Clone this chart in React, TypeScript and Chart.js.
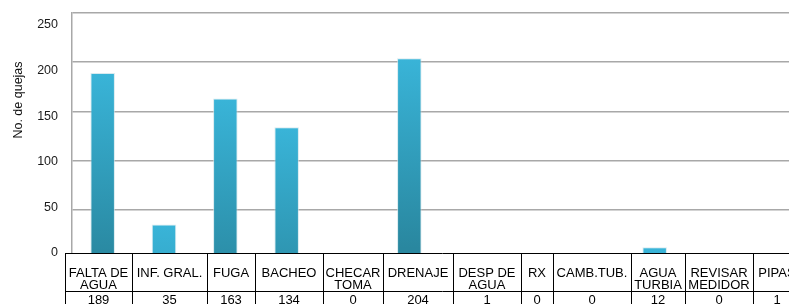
import React, { useEffect, useRef } from "react";
import { Chart, registerables } from "chart.js";

Chart.register(...registerables);

// ---- data ----
const CATEGORY_LINES: string[][] = [
  ["FALTA DE", "AGUA"],
  ["INF. GRAL."],
  ["FUGA"],
  ["BACHEO"],
  ["CHECAR", "TOMA"],
  ["DRENAJE"],
  ["DESP DE", "AGUA"],
  ["RX"],
  ["CAMB.TUB."],
  ["AGUA", "TURBIA"],
  ["REVISAR", "MEDIDOR"],
  ["PIPAS"],
];
const QUEJAS: number[] = [189, 35, 163, 134, 0, 204, 1, 0, 0, 12, 0, 1];
const Y_MIN = 0;
const Y_MAX = 250;
const Y_STEP = 50;
const Y_TITLE = "No. de quejas";

// ---- layout / style ----
const TABLE_COL_WIDTHS = [67, 75, 48, 68, 60, 70, 68, 32, 78, 54, 68, 48];
const FONT = "'Liberation Sans', Arial, sans-serif";
const CANVAS_W = 820;
const CANVAS_H = 304;

export default function App() {
  const ref = useRef<HTMLCanvasElement>(null);

  useEffect(() => {
    const canvas = ref.current!;

    const tablePlugin = {
      id: "dataTable",
      afterDraw(chart: any) {
        const { ctx, chartArea } = chart;
        const left = chartArea.left - 7;
        const top = Math.round(chartArea.bottom - 6) + 0.5;
        const sep = top + 38;
        const bottom = CANVAS_H + 2;
        ctx.save();
        ctx.fillStyle = "#ffffff";
        ctx.fillRect(left, top, CANVAS_W - left, bottom - top);
        ctx.strokeStyle = "#000000";
        ctx.lineWidth = 1;
        ctx.beginPath();
        ctx.moveTo(left, top);
        ctx.lineTo(CANVAS_W, top);
        ctx.moveTo(left, sep);
        ctx.lineTo(CANVAS_W, sep);
        let x = left;
        const bounds: number[] = [x];
        TABLE_COL_WIDTHS.forEach((w) => {
          x += w;
          bounds.push(x);
        });
        bounds.forEach((bx) => {
          const px = Math.round(bx) + 0.5;
          ctx.moveTo(px, top);
          ctx.lineTo(px, bottom);
        });
        ctx.stroke();

        ctx.fillStyle = "#000000";
        ctx.font = `13px ${FONT}`;
        ctx.textAlign = "center";
        ctx.textBaseline = "alphabetic";
        CATEGORY_LINES.forEach((lines, i) => {
          const cx = (bounds[i] + bounds[i + 1]) / 2;
          lines.forEach((ln, j) => {
            ctx.fillText(ln, cx, top + 23 + j * 12);
          });
          ctx.fillText(String(QUEJAS[i]), cx, sep + 12);
        });

        // y-axis title
        ctx.save();
        ctx.translate(chartArea.left - 50, chartArea.top + 87);
        ctx.rotate(-Math.PI / 2);
        ctx.font = `12.5px ${FONT}`;
        ctx.fillStyle = "#111111";
        ctx.textAlign = "center";
        ctx.textBaseline = "alphabetic";
        ctx.fillText(Y_TITLE, 0, 0);
        ctx.restore();
        ctx.restore();
      },
    };

    const chart = new Chart(canvas, {
      type: "bar",
      data: {
        labels: CATEGORY_LINES.map((l) => l.join(" ")),
        datasets: [
          {
            label: Y_TITLE,
            data: QUEJAS,
            backgroundColor: (c: any) => {
              const ch = c.chart;
              const ys = ch.scales && ch.scales.y;
              if (!ys || typeof c.raw !== "number") return "#3bb4d6";
              const topPx = ys.getPixelForValue(c.raw);
              if (!isFinite(topPx)) return "#3bb4d6";
              const g = ch.ctx.createLinearGradient(0, topPx, 0, topPx + 190);
              g.addColorStop(0, "#39b4d8");
              g.addColorStop(1, "#29879f");
              return g;
            },
            borderWidth: 1,
            borderColor: "rgba(200,225,232,0.7)",
            barPercentage: 0.4,
            categoryPercentage: 1,
          },
        ],
      },
      options: {
        responsive: false,
        animation: false,
        devicePixelRatio: 1,
        layout: { padding: { top: 13, bottom: CANVAS_H - 259, left: 0, right: CANVAS_W - 808 } },
        plugins: { legend: { display: false }, tooltip: { enabled: false } },
        scales: {
          x: { type: "category", display: false },
          y: {
            type: "linear",
            position: "left",
            weight: 0,
            min: Y_MIN,
            max: Y_MAX,
            ticks: { stepSize: Y_STEP, display: false },
            grid: { color: "#a8a8a8", lineWidth: 1.5, drawTicks: false },
            border: { display: true, color: "#a8a8a8", width: 1.5 },
            afterFit: (s: any) => {
              s.width = 0;
              s.paddingTop = 0;
              s.paddingBottom = 0;
            },
          },
          yl: {
            type: "linear",
            position: "left",
            weight: 10,
            min: -6.9,
            max: 263.2,
            ticks: {
              stepSize: Y_STEP,
              includeBounds: false,
              padding: 14,
              color: "#1a1a1a",
              font: { family: FONT, size: 12.5 },
            },
            afterBuildTicks: (s: any) => {
              s.ticks = s.ticks.filter(
                (t: any) => t.value >= Y_MIN && t.value <= Y_MAX && t.value % Y_STEP === 0
              );
            },
            grid: { display: false, drawTicks: false },
            border: { display: false },
            afterFit: (s: any) => {
              s.width = 72;
              s.paddingTop = 0;
              s.paddingBottom = 0;
            },
          },
        },
      },
      plugins: [tablePlugin],
    } as any);

    return () => chart.destroy();
  }, []);

  return (
    <div
      style={{
        position: "fixed",
        left: 0,
        top: 0,
        width: 789,
        height: 304,
        overflow: "hidden",
        background: "#ffffff",
      }}
    >
      <canvas
        ref={ref}
        width={CANVAS_W}
        height={CANVAS_H}
        style={{ display: "block", width: CANVAS_W, height: CANVAS_H }}
      />
    </div>
  );
}
